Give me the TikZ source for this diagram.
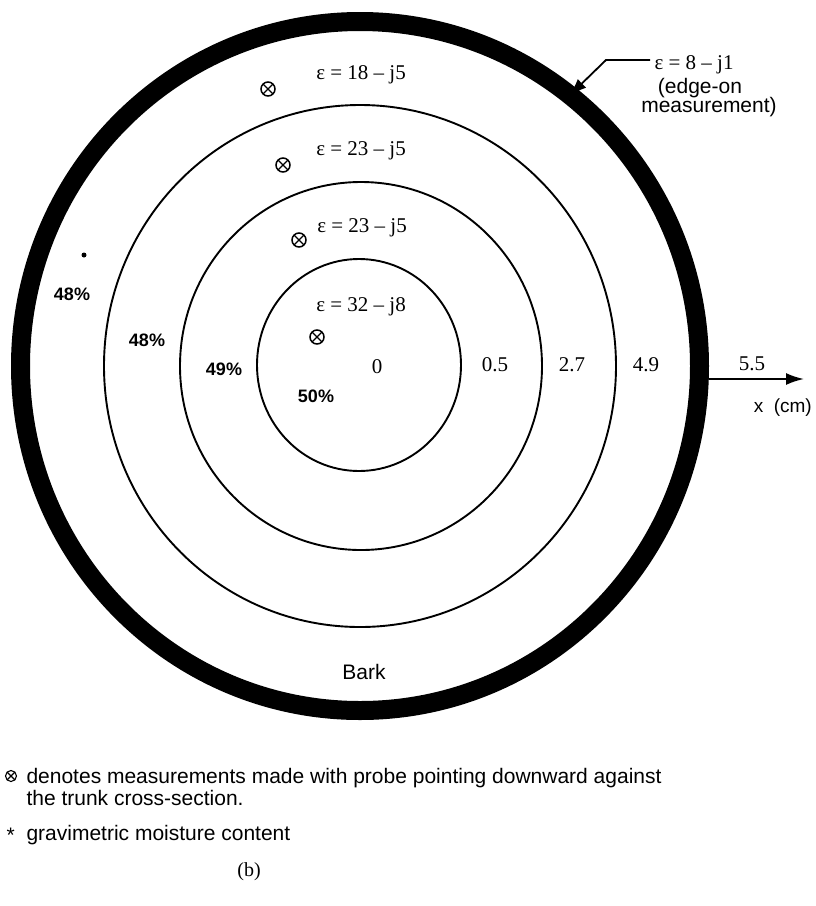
\documentclass[tikz,border=0pt]{standalone}
\usepackage{fontspec}
\setmainfont{Liberation Serif}
\newfontfamily\helv{Liberation Sans}
\usetikzlibrary{arrows.meta}

\tikzset{
    ring/.style={line width=1.9pt},
    probe/.style={circle, draw, line width=1.5pt, minimum size=14pt, inner sep=0pt,
        path picture={\draw[line width=1.2pt]
            (path picture bounding box.north west) -- (path picture bounding box.south east)
            (path picture bounding box.north east) -- (path picture bounding box.south west);}},
    perm/.style={font=\fontsize{21}{23}\selectfont},
    pct/.style={font=\helv\bfseries\fontsize{18}{20}\selectfont},
    sans/.style={font=\helv\fontsize{21}{23}\selectfont},
}

\begin{document}
\begin{tikzpicture}[x=1pt, y=-1pt]
    \useasboundingbox (0,0) rectangle (815,906);

    % bark and growth rings
    \fill[even odd rule] (360,366) ellipse [x radius=349pt, y radius=354pt]
                         (360,366) ellipse [x radius=330pt, y radius=335pt];
    \draw[ring] (360,366) ellipse [x radius=256pt, y radius=261pt];
    \draw[ring] (361,366) ellipse [x radius=181pt, y radius=184pt];
    \draw[ring] (359,365) ellipse [x radius=102pt, y radius=106pt];

    % permittivities
    \node[perm] (eps18) at (361,75) {ε = 18 – j5};
    \node[perm] (eps23a) at (361,151) {ε = 23 – j5};
    \node[perm] (eps23b) at (362,228) {ε = 23 – j5};
    \node[perm] (eps32) at (361,307) {ε = 32 – j8};
    \node[probe] (pr1) at (268,89) {};
    \node[probe] (pr2) at (283,165) {};
    \node[probe] (pr3) at (299,240) {};
    \node[probe] (pr4) at (317,337) {};

    % moisture
    \node[pct] (m50) at (316,396) {50\%};
    \node[pct] (m49) at (224,369) {49\%};
    \node[pct] (m48a) at (147,340) {48\%};
    \node[pct] (m48b) at (72,294) {48\%};
    \node[circle, fill, inner sep=0pt, minimum size=5pt] (dot) at (84,255) {};

    % radial positions
    \node[perm] (r0) at (377,367) {0};
    \node[perm] (r05) at (495,365) {0.5};
    \node[perm] (r27) at (572,365) {2.7};
    \node[perm] (r49) at (646,365) {4.9};
    \node[perm] (r55) at (752,364) {5.5};
    \node[sans, font=\helv\fontsize{19}{21}\selectfont, anchor=east, inner sep=1pt] (xcm) at (813,408) {x\ \ (cm)};
    \coordinate (xstart) at (709,379);
    \coordinate (xend) at (804,379);
    \draw[line width=2pt, -{Latex[length=18pt, width=12pt]}] (xstart) -- (xend);

    \node[sans] (bark) at (364,672) {Bark};

    % edge-on value
    \node[perm] (eps8) at (694,65) {ε = 8 – j1};
    \node[sans] (edge) at (700,88) {(edge-on};
    \node[sans] (meas) at (709,107) {measurement)};
    \coordinate (leadA) at (650,60);
    \coordinate (leadB) at (606,60);
    \coordinate (barktip) at (569,96);
    \draw[line width=1.8pt, -{Latex[length=18pt, width=12pt]}] (leadA) -- (leadB) -- (barktip);

    % legend
    \node[probe, minimum size=11pt, line width=1.1pt] (keyprobe) at (11,776) {};
    \node[sans, anchor=base west] (key1) at (23,783) {denotes measurements made with probe pointing downward against};
    \node[sans, anchor=base west] (key2) at (23,805) {the trunk cross-section.};
    \node[sans, anchor=base west] (keystar) at (3,842) {*};
    \node[sans, anchor=base west] (key3) at (23,840) {gravimetric moisture content};
    \node[font=\fontsize{20}{22}\selectfont] (cap) at (249,872) {(b)};
\end{tikzpicture}
\end{document}
